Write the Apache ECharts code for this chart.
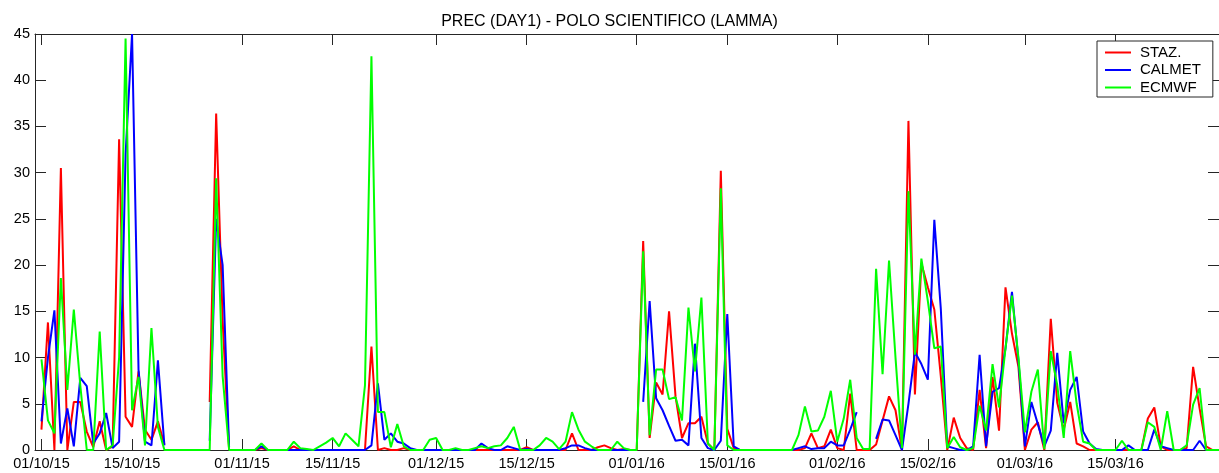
<!DOCTYPE html>
<html>
<head>
<meta charset="utf-8">
<style>
  html, body { margin: 0; padding: 0; background: #fff; }
  #chart { width: 1219px; height: 473px; }
</style>
<script src="https://cdn.jsdelivr.net/npm/echarts@6/dist/echarts.min.js"></script>
</head>
<body>
<div id="chart"></div>
<script>
// daily series, first value is 01/10/15, null = missing
const startDate = '01/10/15';
const axisStart = '30/09/15';
const axisEnd = '31/03/16';
const seriesNames = ['STAZ.', 'CALMET', 'ECMWF'];
const tickLabels = ['01/10/15', '15/10/15', '01/11/15', '15/11/15', '01/12/15', '15/12/15',
  '01/01/16', '15/01/16', '01/02/16', '15/02/16', '01/03/16', '15/03/16'];

const staz = [
  2.2, 13.8, 0, 30.5, 0, 5.2, 5.2, 2.0, 0.3, 3.1,
  0, 0.4, 33.6, 3.6, 2.5, 8.5, 2.2, 1.1, 3.1, 0.6,
  null, null, null, null, null, null, 5.2, 36.4, 14, 0,
  null, null, null, 0, 0.2, 0, 0, 0, 0, 0.4,
  0, 0, 0, 0, 0, 0, 0, 0, 0, 0,
  0, 11.2, 0, 0.2, 0, 0, 0.2, 0, 0, 0,
  0, 0, 0, 0, 0, 0, 0, 0, 0, 0,
  0, 0, 0, 0, 0, 0.3, 0, 0, 0, 0,
  0, 0, 1.8, 0, 0, 0, 0.3, 0.5, 0.2, 0,
  0.1, 0, 0, 22.6, 1.3, 7.3, 6.0, 15.0, 5.8, 1.3,
  2.9, 2.9, 3.6, 0.7, 0, 30.2, 2.3, 0.2, 0, 0,
  0, 0, 0, 0, 0, 0, 0, 0, 0.2, 1.8,
  0.2, 0.4, 2.2, 0.2, 0, 6.1, 0, 0, 0, 0.6,
  3.2, 5.8, 4.3, 0, 35.6, 6.0, 20.2, 17.6, 15.2, 8.0,
  0, 3.5, 1.3, 0.2, 0, 6.5, 0.2, 7.9, 2.1, 17.6,
  12.6, 9.0, 0, 2.2, 3.0, 0, 14.2, 5.1, 2.2, 5.2,
  0.7, 0.4, 0, 0, 0, 0, 0, 0, 0, 0,
  0, 3.4, 4.6, 0.4, 0, 0, 0, 0.2, 9.0, 4.5,
  0.4, 0, 0
];

const calmet = [
  3.1, 10, 15.1, 0.7, 4.5, 0.4, 7.8, 6.9, 0.7, 1.8,
  4.0, 0.2, 0.9, 32, 45, 8.7, 0.9, 0.5, 9.7, 0.5,
  null, null, null, null, null, null, 1.0, 25, 20, 0.3,
  null, null, null, 0, 0.4, 0, 0, 0, 0, 0,
  0, 0, 0, 0, 0, 0, 0, 0, 0, 0,
  0, 0.5, 7.2, 1.1, 1.8, 0.9, 0.7, 0.2, 0, 0,
  0, 0, 0, 0, 0, 0, 0, 0, 0.7, 0.2,
  0, 0, 0.4, 0.2, 0, 0.1, 0, 0, 0, 0,
  0, 0.2, 0.5, 0.5, 0.2, 0, 0, 0, 0, 0,
  0, 0, null, 5.2, 16.1, 5.6, 4.3, 2.6, 1.0, 1.1,
  0.5, 11.5, 1.3, 0.2, 0, 1.0, 14.7, 0.4, 0, 0,
  0, 0, 0, 0, 0, 0, 0, 0.2, 0.4, 0.1,
  0.2, 0.2, 0.9, 0.5, 0.5, 2.2, 4.1, null, null, 1.2,
  3.3, 3.2, 1.6, 0, 5.0, 10.6, 9.3, 7.6, 24.9, 15.3,
  0.4, 0.2, 0, 0, 0.4, 10.3, 0.4, 6.3, 6.7, 11,
  17.1, 9.7, 0.4, 5.2, 2.8, 0.4, 2.1, 10.5, 2.9, 6.5,
  7.9, 2.0, 0.7, 0.1, 0, 0, 0, 0, 0.5, 0,
  0, 0, 2.2, 0.4, 0.2, 0, 0, 0, 0, 1.0,
  0, 0, 0
];

const ecmwf = [
  9.8, 3.2, 1.8, 18.6, 6.5, 15.2, 7.0, 0, 0, 12.8,
  0, 0.5, 10, 44.5, 4.3, 7.9, 0.5, 13.2, 2.5, 0,
  0, 0, 0, 0, 0, 0, 0, 29.4, 8, 0,
  0, 0, 0, 0, 0.7, 0, 0, 0, 0, 0.9,
  0.2, 0.1, 0, 0.4, 0.8, 1.3, 0.4, 1.8, 1.1, 0.4,
  7, 42.6, 4.1, 4.1, 0.3, 2.8, 0.4, 0, 0, 0,
  1.1, 1.3, 0, 0, 0.2, 0, 0, 0.2, 0.4, 0.2,
  0.4, 0.5, 1.3, 2.5, 0, 0, 0, 0.5, 1.3, 0.9,
  0.1, 0.9, 4.1, 2.2, 0.9, 0.4, 0, 0, 0, 0.9,
  0.2, 0, 0, 21.5, 1.6, 8.7, 8.7, 5.5, 5.7, 3.2,
  15.4, 8.5, 16.5, 0.7, 0, 28.3, 0.5, 0, 0, 0,
  0, 0, 0, 0, 0, 0, 0, 1.6, 4.7, 2.0,
  2.1, 3.6, 6.4, 0.9, 3.4, 7.6, 1.3, 0.1, 0.1, 19.6,
  8.2, 20.5, 10, 0.2, 28, 10.3, 20.7, 16.1, 11, 11.2,
  0.2, 1.4, 0.3, 0, 0.2, 4.8, 2.1, 9.3, 4.6, 11,
  16.7, 10, 1.9, 6.3, 8.7, 0.1, 10.7, 7, 1.3, 10.7,
  5, 0.9, 0.7, 0, 0, 0, 0, 1.0, 0, 0,
  0, 3.0, 2.5, 0, 4.2, 0, 0, 0.5, 4.9, 6.7,
  0, 0, 0
];

const colors = ['#ff0000', '#0000ff', '#00ff00'];
const font = '"Liberation Sans", Arial, sans-serif';
const axisColor = '#262626';

function toUTC(s) {
  const p = s.split('/').map(Number);
  return Date.UTC(2000 + p[2], p[1] - 1, p[0]);
}
function dayOf(s) {
  return Math.round((toUTC(s) - toUTC(startDate)) / 86400000);
}

const tickDays = tickLabels.map(dayOf);
const labelByDay = {};
tickDays.forEach((d, i) => { labelByDay[d] = tickLabels[i]; });

function pairs(arr) {
  return arr.map((v, i) => [i, v === null ? '-' : v]);
}

const chart = echarts.init(document.getElementById('chart'));

const xBase = {
  type: 'value',
  min: dayOf(axisStart),
  max: dayOf(axisEnd),
  axisLine: { show: true, onZero: false, lineStyle: { color: axisColor, width: 1 } },
  axisTick: { show: true, inside: true, length: 11, customValues: tickDays, lineStyle: { color: axisColor } },
  splitLine: { show: false }
};
const yBase = {
  type: 'value',
  min: 0,
  max: 45,
  interval: 5,
  axisLine: { show: true, onZero: false, lineStyle: { color: axisColor, width: 1 } },
  axisTick: { show: true, inside: true, length: 11, lineStyle: { color: axisColor } },
  splitLine: { show: false }
};

chart.setOption({
  animation: false,
  backgroundColor: '#fff',
  title: {
    text: 'PREC (DAY1) - POLO SCIENTIFICO (LAMMA)',
    left: 'center',
    top: 9,
    textStyle: { fontFamily: font, fontSize: 16, fontWeight: 'normal', color: '#000' }
  },
  grid: { left: 35, right: 0, top: 34, bottom: 23, outerBoundsMode: 'none' },
  legend: {
    data: seriesNames,
    orient: 'vertical',
    left: 1097,
    top: 41,
    icon: 'rect',
    itemWidth: 26,
    itemHeight: 2,
    itemGap: 2.5,
    padding: [4, 12, 2, 8],
    backgroundColor: '#fff',
    borderColor: axisColor,
    borderWidth: 1,
    textStyle: { fontFamily: font, fontSize: 15, color: '#000', lineHeight: 15, padding: [0, 0, 0, 4] }
  },
  xAxis: [
    Object.assign({}, xBase, {
      position: 'bottom',
      axisLabel: {
        customValues: tickDays,
        formatter: v => labelByDay[v] || '',
        fontFamily: font, fontSize: 14.5, color: '#000', margin: 6
      }
    }),
    Object.assign({}, xBase, { position: 'top', axisLabel: { show: false } })
  ],
  yAxis: [
    Object.assign({}, yBase, {
      position: 'left',
      axisLabel: { fontFamily: font, fontSize: 14.5, color: '#000', margin: 5 }
    }),
    Object.assign({}, yBase, { position: 'right', axisLabel: { show: false } })
  ],
  series: [staz, calmet, ecmwf].map((arr, i) => ({
    name: seriesNames[i],
    type: 'line',
    xAxisIndex: 0,
    yAxisIndex: 0,
    showSymbol: false,
    connectNulls: false,
    color: colors[i],
    lineStyle: { color: colors[i], width: 2 },
    data: pairs(arr)
  }))
});
</script>
</body>
</html>
